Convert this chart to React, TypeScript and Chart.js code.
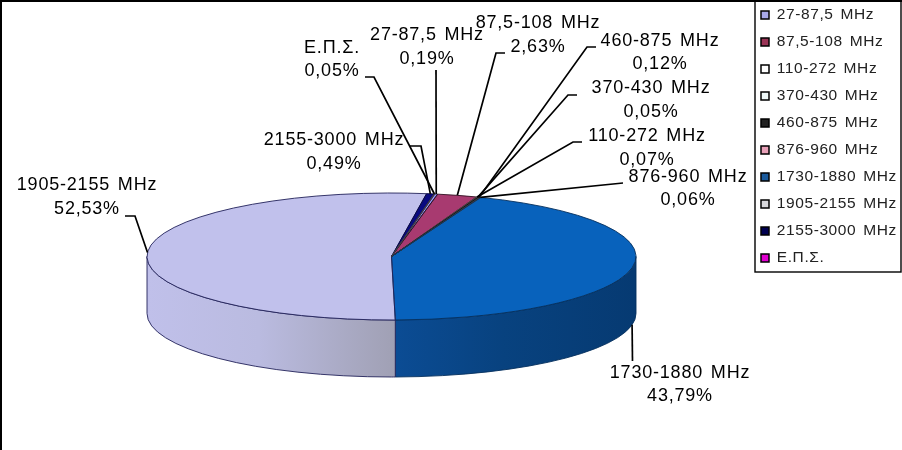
import React, { useEffect, useRef } from "react";
import { Chart, registerables } from "chart.js";

Chart.register(...registerables);

const categories = ["27-87,5 MHz", "87,5-108 MHz", "110-272 MHz", "370-430 MHz", "460-875 MHz", "876-960 MHz", "1730-1880 MHz", "1905-2155 MHz", "2155-3000 MHz", "Ε.Π.Σ."];
const shares = [0.19, 2.63, 0.07, 0.05, 0.12, 0.06, 43.79, 52.53, 0.49, 0.05];
const topColors = ["#9999ff", "#a83a70", "#ffffcc", "#ccffff", "#2a1a2a", "#e8a0b0", "#0862bc", "#c1c1ec", "#0a0a80", "#ee00dd"];
const legendColors = ["#a8a8e8", "#993355", "#ffffff", "#eef8f8", "#222222", "#e8a0b8", "#1a5a9c", "#d8d8dc", "#000050", "#e000d0"];
const wallStart = ["#7777cc", "#7a2a50", "#cccc99", "#99cccc", "#110011", "#b07080", "#0b4c94", "#c0c0ea", "#000060", "#aa00aa"];
const wallMid = ["#7777cc", "#7a2a50", "#cccc99", "#99cccc", "#110011", "#b07080", "#08427f", "#babbe0", "#000060", "#aa00aa"];
const wallEnd = ["#7777cc", "#7a2a50", "#cccc99", "#99cccc", "#110011", "#b07080", "#063a72", "#a0a0b4", "#000060", "#aa00aa"];
const edgeColors = ["#222244", "#301020", "#444444", "#444444", "#111111", "#444444", "#06305e", "#23235a", "#000040", "#444444"];

const CX = 391.5, CY = 256.5, RX = 244.5, RY = 63.5, DEPTH = 57;

// [label centre x, first line y, second line y]
const labelSpots: number[][] = [
  [427, 35, 59], [538, 23, 47], [647, 136, 160], [651, 88, 112], [660, 41, 64],
  [688, 177, 200], [680, 373, 396], [87, 185, 209], [334, 140, 164], [332, 48, 71],
];
// leader line waypoints leading to the rim
const leaderPaths: number[][][] = [
  [[436, 70]], [[505, 53], [496, 53]], [[582, 142], [573, 142]], [[577, 95], [568, 95]], [[596, 47], [587, 47]],
  [[623, 183]], [[632.5, 361]], [[125, 216], [135, 216]], [[410, 146], [421, 146]], [[365, 77], [374, 77]],
];
const anchorOnBase = [false, false, false, false, false, false, true, false, false, false];

const pie3d = {
  id: "pie3d",
  beforeDraw(chart: any) {
    const ctx = chart.ctx;
    ctx.save();
    ctx.fillStyle = "#ffffff";
    ctx.fillRect(0, 0, chart.width, chart.height);
    ctx.restore();
    ctx.letterSpacing = "0.6px";
    ctx.wordSpacing = "2px";
  },
  afterLayout(chart: any) {
    const lg = chart.legend;
    lg.left = 749.5;
    lg.top = -4.25;
  },
  beforeDatasetsDraw(chart: any) {
    const ctx = chart.ctx;
    ctx.letterSpacing = "0px";
    ctx.wordSpacing = "0px";
    const arcs = chart.getDatasetMeta(0).data;
    const TAU = Math.PI * 2;
    arcs.forEach((a: any, i: number) => {
      let s = a.startAngle, e = a.endAngle;
      while (s < -1e-6) { s += TAU; e += TAU; }
      const spans = [[s, e], [s - TAU, e - TAU]];
      spans.forEach(([p, q]) => {
        const lo = Math.max(p, 0), hi = Math.min(q, Math.PI);
        if (hi <= lo) return;
        const g = ctx.createLinearGradient(CX + RX * Math.cos(hi), 0, CX + RX * Math.cos(lo), 0);
        g.addColorStop(0, wallStart[i]);
        g.addColorStop(0.45, wallMid[i]);
        g.addColorStop(1, wallEnd[i]);
        ctx.save();
        ctx.beginPath();
        ctx.ellipse(CX, CY, RX, RY, 0, lo, hi);
        ctx.ellipse(CX, CY + DEPTH, RX, RY, 0, hi, lo, true);
        ctx.closePath();
        ctx.fillStyle = g;
        ctx.fill();
        ctx.strokeStyle = edgeColors[i];
        ctx.lineWidth = 0.9;
        ctx.stroke();
        ctx.restore();
      });
    });
    const a0 = arcs[0];
    ctx.save();
    ctx.translate(CX, CY);
    ctx.scale(RX / a0.outerRadius, RY / a0.outerRadius);
    ctx.translate(-a0.x, -a0.y);
  },
  afterDatasetsDraw(chart: any) {
    const ctx = chart.ctx;
    ctx.restore();
    const arcs = chart.getDatasetMeta(0).data;
    // slice outlines
    arcs.forEach((a: any, i: number) => {
      ctx.save();
      ctx.beginPath();
      ctx.moveTo(CX, CY);
      ctx.ellipse(CX, CY, RX, RY, 0, a.startAngle, a.endAngle);
      ctx.closePath();
      ctx.strokeStyle = edgeColors[i];
      ctx.lineWidth = 0.9;
      ctx.stroke();
      ctx.restore();
    });
    // leader lines
    arcs.forEach((a: any, i: number) => {
      const m = (a.startAngle + a.endAngle) / 2;
      const ax = CX + RX * Math.cos(m);
      const ay = CY + RY * Math.sin(m) + (anchorOnBase[i] ? DEPTH : 0);
      ctx.save();
      ctx.beginPath();
      const pts = leaderPaths[i];
      ctx.moveTo(pts[0][0], pts[0][1]);
      pts.slice(1).forEach((p) => ctx.lineTo(p[0], p[1]));
      ctx.lineTo(ax, ay);
      ctx.strokeStyle = "#000000";
      ctx.lineWidth = 1.7;
      ctx.stroke();
      ctx.restore();
    });
    // data labels
    ctx.save();
    ctx.font = '18px "Liberation Sans"';
    ctx.fillStyle = "#000000";
    ctx.textAlign = "center";
    ctx.textBaseline = "middle";
    ctx.letterSpacing = "0.8px";
    ctx.wordSpacing = "2px";
    categories.forEach((name, i) => {
      const [x, y1, y2] = labelSpots[i];
      ctx.fillText(name, x, y1);
      ctx.fillText(shares[i].toFixed(2).replace(".", ",") + "%", x, y2);
    });
    ctx.restore();
  },
  afterDraw(chart: any) {
    const ctx = chart.ctx;
    ctx.save();
    ctx.strokeStyle = "#000000";
    ctx.lineWidth = 1.4;
    ctx.strokeRect(755, 1, 146, 271);
    ctx.fillStyle = "#000000";
    ctx.fillRect(0, 0, 902, 2);
    ctx.fillRect(0, 0, 2, 450);
    ctx.restore();
  },
};

export default function App() {
  const ref = useRef<HTMLCanvasElement>(null);
  useEffect(() => {
    document.body.style.margin = "0";
    const chart = new Chart(ref.current as HTMLCanvasElement, {
      type: "pie",
      data: {
        labels: categories,
        datasets: [{ data: shares, backgroundColor: topColors, borderWidth: 0, clip: false } as any],
      },
      plugins: [pie3d],
      options: {
        responsive: false,
        animation: false,
        rotation: 10.2,
        plugins: {
          tooltip: { enabled: false },
          legend: {
            position: "right",
            align: "start",
            labels: {
              font: { family: "Liberation Sans", size: 15.5 },
              color: "#222222",
              boxWidth: 8,
              boxHeight: 8,
              padding: 11.5,
              generateLabels(c: any) {
                const items = Chart.overrides.pie.plugins.legend.labels.generateLabels(c);
                return items.map((it: any, i: number) => ({ ...it, fillStyle: legendColors[i], strokeStyle: "#000000", lineWidth: 1.5 }));
              },
            },
          },
        },
      } as any,
    });
    return () => chart.destroy();
  }, []);
  return <canvas ref={ref} width={902} height={450} style={{ display: "block", width: 902, height: 450 }} />;
}
